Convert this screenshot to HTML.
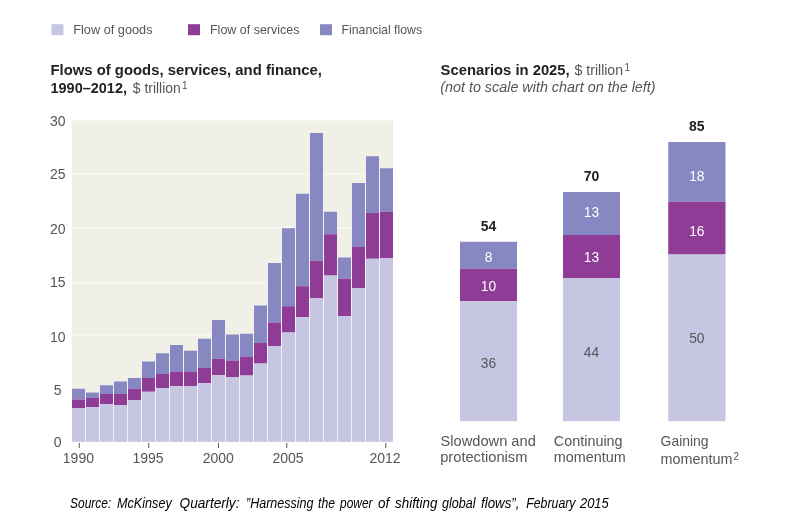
<!DOCTYPE html>
<html lang="en"><head><meta charset="utf-8"><title>Flows of goods, services, and finance</title>
<style>
html,body{margin:0;padding:0;background:#fff}
body{width:800px;height:521px;overflow:hidden}
svg{display:block}
text{font-family:"Liberation Sans",sans-serif}
.l{fill:#555;font-size:13px}
.m{fill:#555;font-size:14.4px}
.sup{fill:#555;font-size:10px}
.b{fill:#222;font-size:14.6px;font-weight:bold}
.i{fill:#555;font-size:14px;font-style:italic}
.ax{fill:#555;font-size:14px;text-anchor:middle}
.c{fill:#555;font-size:14.6px}
.w{fill:#fff;font-size:13.8px;text-anchor:middle}
.d{fill:#555;font-size:13.8px;text-anchor:middle}
.t{fill:#222;font-size:14px;font-weight:bold;text-anchor:middle}
.src{fill:#000;font-size:13.8px;font-style:italic}
</style></head><body>
<svg width="800" height="521" viewBox="0 0 800 521">
<rect width="800" height="521" fill="#fff"/>
<rect x="51.5" y="24.2" width="12" height="11" fill="#c6c6e2"/>
<text class="l" x="73.25" y="33.8" textLength="79.25" lengthAdjust="spacingAndGlyphs">Flow of goods</text>
<rect x="188" y="24.2" width="12" height="11" fill="#8f3c97"/>
<text class="l" x="210" y="33.8" textLength="89.4" lengthAdjust="spacingAndGlyphs">Flow of services</text>
<rect x="320" y="24.2" width="12" height="11" fill="#8788c2"/>
<text class="l" x="341.5" y="33.8" textLength="80.6" lengthAdjust="spacingAndGlyphs">Financial flows</text>
<text class="b" x="50.5" y="74.9" textLength="271.5" lengthAdjust="spacingAndGlyphs">Flows of goods, services, and finance,</text>
<text class="b" x="50.5" y="93.1" textLength="76.5" lengthAdjust="spacingAndGlyphs">1990–2012,</text><text class="m" x="132.8" y="93.1" textLength="47.9" lengthAdjust="spacingAndGlyphs">$ trillion</text><text class="sup" x="182" y="88.8">1</text>
<text class="b" x="440.6" y="75.4" textLength="129.1" lengthAdjust="spacingAndGlyphs">Scenarios in 2025,</text><text class="m" x="574.6" y="75.4" textLength="48.4" lengthAdjust="spacingAndGlyphs">$ trillion</text><text class="sup" x="624.4" y="71.2">1</text>
<text class="i" x="440.2" y="91.5" textLength="215.4" lengthAdjust="spacingAndGlyphs">(not to scale with chart on the left)</text>
<rect x="72" y="120.4" width="321" height="321.35" fill="#f0f0e6"/>
<rect x="72" y="173.5" width="321" height="1" fill="#fff"/>
<rect x="72" y="227.25" width="321" height="1" fill="#fff"/>
<rect x="72" y="282.25" width="321" height="1" fill="#fff"/>
<rect x="72" y="334.5" width="321" height="1" fill="#fff"/>
<text class="ax" x="57.7" y="125.6">30</text>
<text class="ax" x="57.7" y="178.8">25</text>
<text class="ax" x="57.7" y="233.8">20</text>
<text class="ax" x="57.7" y="286.5">15</text>
<text class="ax" x="57.7" y="342.4">10</text>
<text class="ax" x="57.7" y="394.8">5</text>
<text class="ax" x="57.7" y="446.7">0</text>
<rect x="72" y="388.75" width="13" height="10.75" fill="#8788c2"/><rect x="72" y="399.5" width="13" height="8.5" fill="#8f3c97"/><rect x="72" y="408.0" width="13" height="33.75" fill="#c6c6e2"/>
<rect x="86" y="392.5" width="13" height="5.5" fill="#8788c2"/><rect x="86" y="398" width="13" height="9.0" fill="#8f3c97"/><rect x="86" y="407.0" width="13" height="34.75" fill="#c6c6e2"/>
<rect x="100" y="385.25" width="13" height="8.75" fill="#8788c2"/><rect x="100" y="394" width="13" height="10.25" fill="#8f3c97"/><rect x="100" y="404.25" width="13" height="37.5" fill="#c6c6e2"/>
<rect x="114" y="381.5" width="13" height="12.5" fill="#8788c2"/><rect x="114" y="394" width="13" height="11.25" fill="#8f3c97"/><rect x="114" y="405.25" width="13" height="36.5" fill="#c6c6e2"/>
<rect x="128" y="378" width="13" height="10.75" fill="#8788c2"/><rect x="128" y="388.75" width="13" height="11.25" fill="#8f3c97"/><rect x="128" y="400.0" width="13" height="41.75" fill="#c6c6e2"/>
<rect x="142" y="361.5" width="13" height="16.5" fill="#8788c2"/><rect x="142" y="378" width="13" height="13.75" fill="#8f3c97"/><rect x="142" y="391.75" width="13" height="50.0" fill="#c6c6e2"/>
<rect x="156" y="353.25" width="13" height="20.75" fill="#8788c2"/><rect x="156" y="374" width="13" height="14.0" fill="#8f3c97"/><rect x="156" y="388.0" width="13" height="53.75" fill="#c6c6e2"/>
<rect x="170" y="345" width="13" height="26.5" fill="#8788c2"/><rect x="170" y="371.5" width="13" height="14.75" fill="#8f3c97"/><rect x="170" y="386.25" width="13" height="55.5" fill="#c6c6e2"/>
<rect x="184" y="350.75" width="13" height="20.75" fill="#8788c2"/><rect x="184" y="371.5" width="13" height="14.75" fill="#8f3c97"/><rect x="184" y="386.25" width="13" height="55.5" fill="#c6c6e2"/>
<rect x="198" y="338.75" width="13" height="29.25" fill="#8788c2"/><rect x="198" y="368" width="13" height="15.25" fill="#8f3c97"/><rect x="198" y="383.25" width="13" height="58.5" fill="#c6c6e2"/>
<rect x="212" y="320" width="13" height="38.75" fill="#8788c2"/><rect x="212" y="358.75" width="13" height="16.5" fill="#8f3c97"/><rect x="212" y="375.25" width="13" height="66.5" fill="#c6c6e2"/>
<rect x="226" y="334.5" width="13" height="26.0" fill="#8788c2"/><rect x="226" y="360.5" width="13" height="16.75" fill="#8f3c97"/><rect x="226" y="377.25" width="13" height="64.5" fill="#c6c6e2"/>
<rect x="240" y="333.75" width="13" height="23.25" fill="#8788c2"/><rect x="240" y="357" width="13" height="18.5" fill="#8f3c97"/><rect x="240" y="375.5" width="13" height="66.25" fill="#c6c6e2"/>
<rect x="254" y="305.5" width="13" height="37.5" fill="#8788c2"/><rect x="254" y="343" width="13" height="20.5" fill="#8f3c97"/><rect x="254" y="363.5" width="13" height="78.25" fill="#c6c6e2"/>
<rect x="268" y="263" width="13" height="59.5" fill="#8788c2"/><rect x="268" y="322.5" width="13" height="23.75" fill="#8f3c97"/><rect x="268" y="346.25" width="13" height="95.5" fill="#c6c6e2"/>
<rect x="282" y="228.25" width="13" height="78.0" fill="#8788c2"/><rect x="282" y="306.25" width="13" height="26.25" fill="#8f3c97"/><rect x="282" y="332.5" width="13" height="109.25" fill="#c6c6e2"/>
<rect x="296" y="193.75" width="13" height="92.5" fill="#8788c2"/><rect x="296" y="286.25" width="13" height="30.75" fill="#8f3c97"/><rect x="296" y="317.0" width="13" height="124.75" fill="#c6c6e2"/>
<rect x="310" y="133" width="13" height="127.75" fill="#8788c2"/><rect x="310" y="260.75" width="13" height="37.25" fill="#8f3c97"/><rect x="310" y="298.0" width="13" height="143.75" fill="#c6c6e2"/>
<rect x="324" y="211.75" width="13" height="22.5" fill="#8788c2"/><rect x="324" y="234.25" width="13" height="41.25" fill="#8f3c97"/><rect x="324" y="275.5" width="13" height="166.25" fill="#c6c6e2"/>
<rect x="338" y="257.5" width="13" height="21.25" fill="#8788c2"/><rect x="338" y="278.75" width="13" height="37.25" fill="#8f3c97"/><rect x="338" y="316.0" width="13" height="125.75" fill="#c6c6e2"/>
<rect x="352" y="183" width="13" height="64" fill="#8788c2"/><rect x="352" y="247" width="13" height="41.0" fill="#8f3c97"/><rect x="352" y="288.0" width="13" height="153.75" fill="#c6c6e2"/>
<rect x="366" y="156.25" width="13" height="56.75" fill="#8788c2"/><rect x="366" y="213" width="13" height="45.75" fill="#8f3c97"/><rect x="366" y="258.75" width="13" height="183.0" fill="#c6c6e2"/>
<rect x="380" y="168.25" width="13" height="43.5" fill="#8788c2"/><rect x="380" y="211.75" width="13" height="46.25" fill="#8f3c97"/><rect x="380" y="258.0" width="13" height="183.75" fill="#c6c6e2"/>
<rect x="85" y="388.75" width="1" height="53.0" fill="#efeff8"/><rect x="99" y="385.25" width="1" height="56.5" fill="#efeff8"/><rect x="113" y="381.5" width="1" height="60.25" fill="#efeff8"/><rect x="127" y="378" width="1" height="63.75" fill="#efeff8"/><rect x="141" y="361.5" width="1" height="80.25" fill="#efeff8"/><rect x="155" y="353.25" width="1" height="88.5" fill="#efeff8"/><rect x="169" y="345" width="1" height="96.75" fill="#efeff8"/><rect x="183" y="345" width="1" height="96.75" fill="#efeff8"/><rect x="197" y="338.75" width="1" height="103.0" fill="#efeff8"/><rect x="211" y="320" width="1" height="121.75" fill="#efeff8"/><rect x="225" y="320" width="1" height="121.75" fill="#efeff8"/><rect x="239" y="333.75" width="1" height="108.0" fill="#efeff8"/><rect x="253" y="305.5" width="1" height="136.25" fill="#efeff8"/><rect x="267" y="263" width="1" height="178.75" fill="#efeff8"/><rect x="281" y="228.25" width="1" height="213.5" fill="#efeff8"/><rect x="295" y="193.75" width="1" height="248.0" fill="#efeff8"/><rect x="309" y="133" width="1" height="308.75" fill="#efeff8"/><rect x="323" y="133" width="1" height="308.75" fill="#efeff8"/><rect x="337" y="211.75" width="1" height="230.0" fill="#efeff8"/><rect x="351" y="183" width="1" height="258.75" fill="#efeff8"/><rect x="365" y="156.25" width="1" height="285.5" fill="#efeff8"/><rect x="379" y="156.25" width="1" height="285.5" fill="#efeff8"/>
<rect x="78.75" y="443" width="1" height="5" fill="#555"/><text class="ax" x="78.4" y="462.8">1990</text>
<rect x="148.25" y="443" width="1" height="5" fill="#555"/><text class="ax" x="148" y="462.8">1995</text>
<rect x="218.0" y="443" width="1" height="5" fill="#555"/><text class="ax" x="218.3" y="462.8">2000</text>
<rect x="286.25" y="443" width="1" height="5" fill="#555"/><text class="ax" x="288.1" y="462.8">2005</text>
<rect x="385.25" y="443" width="1" height="5" fill="#555"/><text class="ax" x="385" y="462.8">2012</text>
<rect x="460" y="241.75" width="57" height="27.0" fill="#8788c2"/><rect x="460" y="268.75" width="57" height="32.5" fill="#8f3c97"/><rect x="460" y="301.25" width="57" height="119.95" fill="#c6c6e2"/>
<text class="t" x="488.5" y="231.25">54</text><text class="w" x="488.5" y="262.15">8</text><text class="w" x="488.5" y="291.15">10</text><text class="d" x="488.5" y="367.65">36</text>
<rect x="563" y="192" width="57" height="43" fill="#8788c2"/><rect x="563" y="235" width="57" height="43" fill="#8f3c97"/><rect x="563" y="278" width="57" height="143.2" fill="#c6c6e2"/>
<text class="t" x="591.5" y="181.25">70</text><text class="w" x="591.5" y="216.9">13</text><text class="w" x="591.5" y="261.9">13</text><text class="d" x="591.5" y="356.7">44</text>
<rect x="668.25" y="142" width="57.25" height="59.75" fill="#8788c2"/><rect x="668.25" y="201.75" width="57.25" height="52.75" fill="#8f3c97"/><rect x="668.25" y="254.5" width="57.25" height="166.7" fill="#c6c6e2"/>
<text class="t" x="696.875" y="130.5">85</text><text class="w" x="696.875" y="180.65">18</text><text class="w" x="696.875" y="235.65">16</text><text class="d" x="696.875" y="342.9">50</text>
<text class="c" x="440.6" y="445.9" textLength="95.2" lengthAdjust="spacingAndGlyphs">Slowdown and</text><text class="c" x="440.2" y="461.8" textLength="87.2" lengthAdjust="spacingAndGlyphs">protectionism</text>
<text class="c" x="553.8" y="445.9" textLength="68.8" lengthAdjust="spacingAndGlyphs">Continuing</text><text class="c" x="553.8" y="461.8" textLength="72" lengthAdjust="spacingAndGlyphs">momentum</text>
<text class="c" x="660.6" y="445.9" textLength="48" lengthAdjust="spacingAndGlyphs">Gaining</text><text class="c" x="660.6" y="463.7" textLength="72" lengthAdjust="spacingAndGlyphs">momentum</text><text class="sup" x="733.4" y="459.8" style="font-size:10px">2</text>
<text class="src" y="507.6"><tspan x="70" textLength="41.25" lengthAdjust="spacingAndGlyphs">Source:</tspan> <tspan x="117" textLength="54.75" lengthAdjust="spacingAndGlyphs">McKinsey</tspan> <tspan x="179.5" textLength="60" lengthAdjust="spacingAndGlyphs">Quarterly:</tspan> <tspan x="246" textLength="67.5" lengthAdjust="spacingAndGlyphs">”Harnessing</tspan> <tspan x="318" textLength="17" lengthAdjust="spacingAndGlyphs">the</tspan> <tspan x="340" textLength="32.5" lengthAdjust="spacingAndGlyphs">power</tspan> <tspan x="378" textLength="11.25" lengthAdjust="spacingAndGlyphs">of</tspan> <tspan x="395" textLength="42.5" lengthAdjust="spacingAndGlyphs">shifting</tspan> <tspan x="442" textLength="33.5" lengthAdjust="spacingAndGlyphs">global</tspan> <tspan x="481" textLength="38.5" lengthAdjust="spacingAndGlyphs">flows”,</tspan> <tspan x="526.25" textLength="49.25" lengthAdjust="spacingAndGlyphs">February</tspan> <tspan x="580" textLength="28.75" lengthAdjust="spacingAndGlyphs">2015</tspan></text>
</svg>
</body></html>
